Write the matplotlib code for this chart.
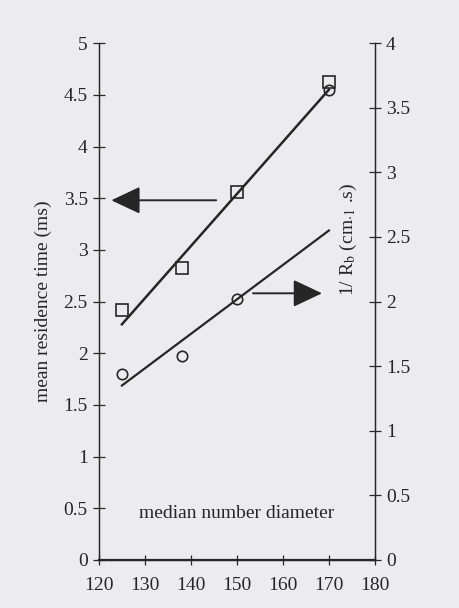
import matplotlib.pyplot as plt

# data
diam = [125, 138, 150, 170]
residence_time = [2.42, 2.82, 3.56, 4.62]      # squares, left axis (ms)
inv_rb = [1.44, 1.58, 2.02, 3.64]              # circles, right axis
fit_x = [125, 170]
fit_time = [2.28, 4.55]
fit_rb = [1.35, 2.55]

x_ticks = [120, 130, 140, 150, 160, 170, 180]
left_ticks = [0, 0.5, 1, 1.5, 2, 2.5, 3, 3.5, 4, 4.5, 5]
right_ticks = [0, 0.5, 1, 1.5, 2, 2.5, 3, 3.5, 4]

ink = '#262626'
paper = '#ececf0'

plt.rcParams['font.family'] = ['Liberation Serif', 'DejaVu Serif']
plt.rcParams['mathtext.fontset'] = 'stix'

fig = plt.figure(figsize=(4.6, 6.08), dpi=100, facecolor=paper)
ax = fig.add_axes([0.215, 0.079, 0.6, 0.85])
ax.set_facecolor(paper)
ax2 = ax.twinx()

# squares + fit line (left axis)
ax.plot(diam, residence_time, 's', mfc='none', mec=ink, ms=8, mew=1.2)
ax.plot(fit_x, fit_time, color=ink, lw=1.8)

# circles + fit line (right axis)
ax2.plot(diam, inv_rb, 'o', mfc='none', mec=ink, ms=7.5, mew=1.2)
ax2.plot(fit_x, fit_rb, color=ink, lw=1.6)

ax.set_xlim(120, 180)
ax.set_ylim(0, 5)
ax2.set_ylim(0, 4)
ax.set_xticks(x_ticks)
ax.set_yticks(left_ticks)
ax2.set_yticks(right_ticks)
ax.set_yticklabels(['0', '0.5', '1', '1.5', '2', '2.5', '3', '3.5', '4', '4.5', '5'])
ax2.set_yticklabels(['0', '0.5', '1', '1.5', '2', '2.5', '3', '3.5', '4'])

for a in (ax, ax2):
    a.spines['top'].set_visible(False)
    for s in a.spines.values():
        s.set_color(ink)
        s.set_linewidth(0.9)
    a.tick_params(direction='inout', length=8, width=0.9, colors=ink, labelsize=14, pad=4)
ax.spines['bottom'].set_linewidth(1.6)
ax.tick_params(axis='x', length=7, pad=9)

ax.set_ylabel('mean residence time (ms)', fontsize=14, color=ink, labelpad=8)
ax.text(0.905, 0.62, r'1/ R$_\mathrm{b}$ (cm$_{\cdot\mathrm{1}}$ .s)', transform=ax.transAxes,
        rotation=90, ha='center', va='center', fontsize=14, color=ink)
ax.text(150, 0.45, 'median number diameter', ha='center', va='center', fontsize=14, color=ink)

# arrows pointing to the matching axes
ax.annotate('', xy=(122.7, 3.48), xytext=(145.5, 3.48),
            arrowprops=dict(arrowstyle='-|>,head_length=1.8,head_width=0.85', lw=1.4,
                            color=ink, shrinkA=0, shrinkB=0))
ax.annotate('', xy=(168.5, 2.58), xytext=(153.5, 2.58),
            arrowprops=dict(arrowstyle='-|>,head_length=1.8,head_width=0.85', lw=1.4,
                            color=ink, shrinkA=0, shrinkB=0))

fig.savefig('out.png', dpi=100, facecolor=paper)
